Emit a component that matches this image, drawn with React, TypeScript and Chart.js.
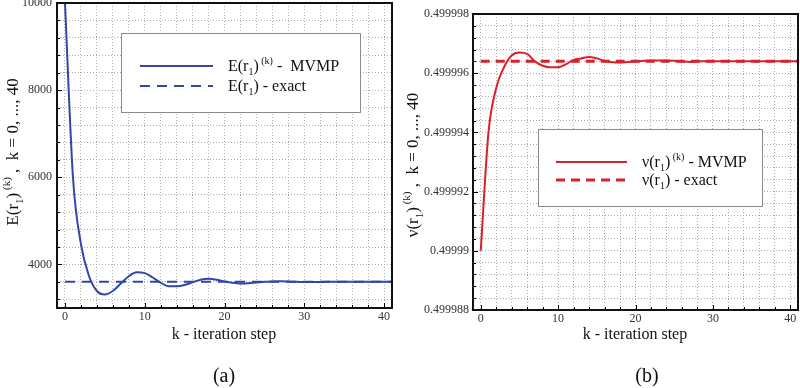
import React, { useEffect, useRef } from "react";
import { Chart, registerables } from "chart.js";

Chart.register(...registerables);

// ---------- data ----------
const iterK = [
  0, 1, 2, 3, 4, 5, 6, 7, 8, 9, 10, 11, 12, 13, 14, 15, 16, 17, 18, 19, 20,
  21, 22, 23, 24, 25, 26, 27, 28, 29, 30, 31, 32, 33, 34, 35, 36, 37, 38, 39, 40, 41,
];
const eMVMP = [
  10000, 6000, 4470, 3740, 3390, 3310, 3390, 3560, 3730, 3820, 3800, 3700, 3580,
  3500, 3500, 3530, 3590, 3650, 3670, 3650, 3610, 3580, 3565, 3570, 3585, 3600,
  3610, 3615, 3610, 3600, 3595, 3595, 3598, 3600, 3600, 3600, 3600, 3600, 3600,
  3600, 3600, 3600,
];
const exactK = [0, 41];
const eExact = [3600, 3600];
const nuMVMP = [
  0.49999, 0.499994, 0.4999955, 0.4999962, 0.4999966, 0.4999967, 0.49999665,
  0.4999964, 0.49999625, 0.4999962, 0.4999962, 0.4999963, 0.49999645, 0.4999965,
  0.49999655, 0.4999965, 0.49999642, 0.49999637, 0.49999636, 0.49999638,
  0.4999964, 0.49999642, 0.49999643, 0.49999643, 0.49999643, 0.49999642,
  0.4999964, 0.49999638, 0.4999964, 0.4999964, 0.4999964, 0.4999964, 0.4999964,
  0.4999964, 0.4999964, 0.4999964, 0.4999964, 0.4999964, 0.4999964, 0.4999964,
  0.4999964, 0.4999964,
];
const nuExact = [0.4999964, 0.4999964];

const xTickLabels = ["0", "10", "20", "30", "40"];
const xTickValues = [0, 10, 20, 30, 40];
const eTickValues = [4000, 6000, 8000, 10000];
const eTickLabels = ["4000", "6000", "8000", "10000"];
const nuTickValues = [0.499988, 0.49999, 0.499992, 0.499994, 0.499996, 0.499998];
const nuTickLabels = ["0.499988", "0.49999", "0.499992", "0.499994", "0.499996", "0.499998"];

const SERIF = '"Liberation Serif", "DejaVu Serif", serif';

type Seg = { t: string; s?: "sub" | "sup" };

function richWidth(ctx: CanvasRenderingContext2D, segs: Seg[], size: number) {
  let w = 0;
  for (const g of segs) {
    ctx.font = `${g.s ? Math.round(size * 0.62) : size}px ${SERIF}`;
    w += ctx.measureText(g.t).width;
  }
  return w;
}

function drawRich(
  ctx: CanvasRenderingContext2D,
  segs: Seg[],
  x: number,
  y: number,
  size: number,
  color: string
) {
  ctx.fillStyle = color;
  ctx.textBaseline = "alphabetic";
  ctx.textAlign = "left";
  let cx = x;
  for (const g of segs) {
    const fs = g.s ? Math.round(size * 0.62) : size;
    ctx.font = `${fs}px ${SERIF}`;
    const dy = g.s === "sub" ? size * 0.28 : g.s === "sup" ? -size * 0.45 : 0;
    ctx.fillText(g.t, cx, y + dy);
    cx += ctx.measureText(g.t).width;
  }
}

type PanelCfg = {
  xs: number[];
  ys: number[];
  exX: number[];
  exY: number[];
  color: string;
  yMin: number;
  yMax: number;
  yGridStep: number;
  yGridStart: number;
  yMajors: number[];
  yLabels: string[];
  pad: { left: number; right: number; top: number };
  yAxisW: number;
  bottom: number;
  yTickPad: number;
  xTickPad: number;
  dash: number[];
  exWidth: number;
  legendBox: [number, number, number, number];
  legendLineX: [number, number];
  legendRows: [number, number];
  legendTextX: number;
  legendText1: Seg[];
  legendText2: Seg[];
  yTitle: Seg[];
  yTitlePos: [number, number];
  xTitlePos: [number, number];
  panelLabel: string;
  panelLabelPos: [number, number];
};

function Panel({ cfg }: { cfg: PanelCfg }) {
  const ref = useRef<HTMLCanvasElement | null>(null);
  useEffect(() => {
    if (!ref.current) return;
    const c = cfg;
    const near = (v: number, arr: number[]) =>
      arr.findIndex((a) => Math.abs(a - v) < (c.yMax - c.yMin) * 1e-4);
    const overlay = {
      id: "overlay",
      afterDatasetsDraw(chart: any) {
        const ctx: CanvasRenderingContext2D = chart.ctx;
        const a = chart.chartArea;
        const xs = chart.scales.x;
        const ys = chart.scales.y;
        ctx.save();
        // inward tick marks
        ctx.strokeStyle = "#000";
        ctx.lineWidth = 1;
        ctx.setLineDash([]);
        for (let v = 0; v <= 40; v += 2) {
          const px = Math.round(xs.getPixelForValue(v)) + 0.5;
          const len = v % 10 === 0 ? 5 : 3;
          ctx.beginPath();
          ctx.moveTo(px, a.bottom);
          ctx.lineTo(px, a.bottom - len);
          ctx.stroke();
        }
        for (let i = 0; ; i++) {
          const v = c.yGridStart + i * c.yGridStep;
          if (v > c.yMax + c.yGridStep * 0.01) break;
          const py = Math.round(ys.getPixelForValue(v)) + 0.5;
          const len = near(v, c.yMajors) >= 0 ? 5 : 3;
          ctx.beginPath();
          ctx.moveTo(a.left, py);
          ctx.lineTo(a.left + len, py);
          ctx.stroke();
        }
        // frame
        ctx.lineWidth = 2;
        ctx.strokeStyle = "#111";
        ctx.strokeRect(a.left, a.top, a.right - a.left, a.bottom - a.top);
        // legend
        const [bx, by, bw, bh] = c.legendBox;
        ctx.fillStyle = "#fff";
        ctx.fillRect(bx, by, bw, bh);
        ctx.lineWidth = 1;
        ctx.strokeStyle = "#8a8a8a";
        ctx.strokeRect(bx + 0.5, by + 0.5, bw, bh);
        ctx.strokeStyle = c.color;
        ctx.lineWidth = 2;
        ctx.beginPath();
        ctx.moveTo(c.legendLineX[0], c.legendRows[0]);
        ctx.lineTo(c.legendLineX[1], c.legendRows[0]);
        ctx.stroke();
        ctx.lineWidth = c.exWidth;
        ctx.setLineDash(c.dash);
        ctx.beginPath();
        ctx.moveTo(c.legendLineX[0], c.legendRows[1]);
        ctx.lineTo(c.legendLineX[1], c.legendRows[1]);
        ctx.stroke();
        ctx.setLineDash([]);
        drawRich(ctx, c.legendText1, c.legendTextX, c.legendRows[0] + 5, 16, "#111");
        drawRich(ctx, c.legendText2, c.legendTextX, c.legendRows[1] + 5, 16, "#111");
        // x title
        ctx.font = `16px ${SERIF}`;
        ctx.fillStyle = "#111";
        ctx.textAlign = "center";
        ctx.textBaseline = "middle";
        ctx.fillText("k - iteration step", c.xTitlePos[0], c.xTitlePos[1]);
        ctx.font = `20px ${SERIF}`;
        ctx.fillText(c.panelLabel, c.panelLabelPos[0], c.panelLabelPos[1]);
        // y title
        ctx.save();
        ctx.translate(c.yTitlePos[0], c.yTitlePos[1]);
        ctx.rotate(-Math.PI / 2);
        const w = richWidth(ctx, c.yTitle, 17);
        drawRich(ctx, c.yTitle, -w / 2, 0, 17, "#111");
        ctx.restore();
        ctx.restore();
      },
    };
    const chart = new Chart(ref.current, {
      type: "line",
      data: {
        datasets: [
          {
            data: c.exX.map((x, i) => ({ x, y: c.exY[i] })),
            borderColor: c.color,
            borderWidth: c.exWidth,
            borderDash: c.dash,
            pointRadius: 0,
            tension: 0,
          },
          {
            data: c.xs.map((x, i) => ({ x, y: c.ys[i] })),
            borderColor: c.color,
            borderWidth: 2,
            pointRadius: 0,
            cubicInterpolationMode: "monotone",
          },
        ],
      },
      options: {
        animation: false,
        responsive: false,
        devicePixelRatio: 1,
        layout: { padding: { left: c.pad.left, right: c.pad.right, top: c.pad.top, bottom: 0 } },
        plugins: { legend: { display: false }, tooltip: { enabled: false } },
        scales: {
          x: {
            type: "linear",
            min: -1,
            max: 41,
            afterBuildTicks: (s: any) => {
              const t = [];
              for (let v = 0; v <= 40; v += 2) t.push({ value: v });
              s.ticks = t;
            },
            afterFit: (s: any) => {
              s.height = c.bottom;
              s.paddingLeft = 0;
              s.paddingRight = 0;
            },
            ticks: {
              autoSkip: false,
              maxRotation: 0,
              padding: c.xTickPad,
              color: "#333",
              font: { family: SERIF, size: 12 },
              callback: (v: any) => {
                const i = xTickValues.indexOf(Number(v));
                return i >= 0 ? xTickLabels[i] : "";
              },
            },
            grid: { color: "#adadad", lineWidth: 1, drawTicks: false },
            border: { display: false, dash: [1, 2] },
          },
          y: {
            type: "linear",
            min: c.yMin,
            max: c.yMax,
            afterBuildTicks: (s: any) => {
              const t = [];
              for (let i = 0; ; i++) {
                const v = c.yGridStart + i * c.yGridStep;
                if (v > c.yMax + c.yGridStep * 0.01) break;
                t.push({ value: v });
              }
              s.ticks = t;
            },
            afterFit: (s: any) => {
              s.width = c.yAxisW;
              s.paddingTop = 0;
              s.paddingBottom = 0;
            },
            ticks: {
              autoSkip: false,
              padding: c.yTickPad,
              color: "#333",
              font: { family: SERIF, size: 12 },
              callback: (v: any) => {
                const i = near(Number(v), c.yMajors);
                return i >= 0 ? c.yLabels[i] : "";
              },
            },
            grid: { color: "#adadad", lineWidth: 1, drawTicks: false },
            border: { display: false, dash: [1, 2] },
          },
        },
      },
      plugins: [overlay],
    } as any);
    return () => chart.destroy();
  }, [cfg]);
  return <canvas ref={ref} width={400} height={388} style={{ display: "block" }} />;
}

const leftCfg: PanelCfg = {
  xs: iterK,
  ys: eMVMP,
  exX: exactK,
  exY: eExact,
  color: "#3346a8",
  yMin: 3000,
  yMax: 10000,
  yGridStep: 400,
  yGridStart: 3200,
  yMajors: eTickValues,
  yLabels: eTickLabels,
  pad: { left: 0, right: 8, top: 3 },
  yAxisW: 57,
  bottom: 80,
  yTickPad: 5,
  xTickPad: 2,
  dash: [10, 7],
  exWidth: 2,
  legendBox: [121, 33, 239, 79],
  legendLineX: [140, 213],
  legendRows: [66, 86],
  legendTextX: 228,
  legendText1: [{ t: "E(r" }, { t: "1", s: "sub" }, { t: ")" }, { t: " (k)", s: "sup" }, { t: " -  MVMP" }],
  legendText2: [{ t: "E(r" }, { t: "1", s: "sub" }, { t: ") - exact" }],
  yTitle: [{ t: "E(r" }, { t: "1", s: "sub" }, { t: ")" }, { t: " (k)", s: "sup" }, { t: " ,  k = 0, ..., 40" }],
  yTitlePos: [18, 152],
  xTitlePos: [224, 335],
  panelLabel: "(a)",
  panelLabelPos: [224, 377],
};

const rightCfg: PanelCfg = {
  xs: iterK,
  ys: nuMVMP,
  exX: exactK,
  exY: nuExact,
  color: "#d9202c",
  yMin: 0.499988,
  yMax: 0.499998,
  yGridStep: 0.0000004,
  yGridStart: 0.499988,
  yMajors: nuTickValues,
  yLabels: nuTickLabels,
  pad: { left: 0, right: 2, top: 14 },
  yAxisW: 73,
  bottom: 78,
  yTickPad: 4,
  xTickPad: 2,
  dash: [9, 6],
  exWidth: 3,
  legendBox: [138, 129, 224, 77],
  legendLineX: [156, 227],
  legendRows: [162, 180],
  legendTextX: 242,
  legendText1: [{ t: "ν(r" }, { t: "1", s: "sub" }, { t: ")" }, { t: " (k)", s: "sup" }, { t: " - MVMP" }],
  legendText2: [{ t: "ν(r" }, { t: "1", s: "sub" }, { t: ") - exact" }],
  yTitle: [{ t: "ν(r" }, { t: "1", s: "sub" }, { t: ")" }, { t: " (k)", s: "sup" }, { t: " ,  k = 0, ..., 40" }],
  yTitlePos: [18, 165],
  xTitlePos: [235, 335],
  panelLabel: "(b)",
  panelLabelPos: [247, 377],
};

export default function App() {
  return (
    <div
      style={{
        position: "fixed",
        left: 0,
        top: 0,
        width: 800,
        height: 388,
        display: "flex",
        background: "#fff",
      }}
    >
      <Panel cfg={leftCfg} />
      <Panel cfg={rightCfg} />
    </div>
  );
}
